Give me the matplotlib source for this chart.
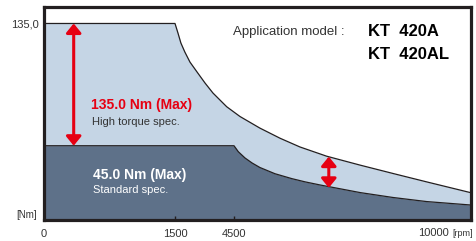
import numpy as np
import matplotlib
matplotlib.use("Agg")
import matplotlib.pyplot as plt

plt.rcParams['font.family'] = ['Liberation Sans', 'DejaVu Sans']

# schematic rpm axis: anchor speeds and their relative positions on the axis
axis_rpm = [0, 1500, 4500, 10000]
axis_pos = [0, 131, 190, 427]

# high torque spec (upper curve)
high_rpm = [0, 1500, 1650, 1800, 2000, 2260, 2620, 3030, 3430, 4130, 4640,
            5100, 5570, 6030, 6650, 7430, 8200, 8970, 10000]
high_nm = [135, 135, 128.0, 120.6, 114.0, 106.6, 99.3, 91.1, 83.8, 73.7, 66.5,
           58.0, 50.5, 44.1, 37.3, 30.7, 24.5, 18.4, 10.4]

# standard spec (lower curve)
std_rpm = [0, 4500, 4600, 4755, 4920, 5100, 5450, 5840, 6150, 6500, 7430, 8190, 8970, 10000]
std_nm = [45, 45, 40.6, 36.0, 32.3, 29.0, 24.4, 20.8, 18.4, 16.1, 10.5, 6.9, 3.9, 1.35]

x_ticks = [0, 1500, 4500]
x_labels = ['0', '1500', '4500']
y_ticks = [135]
y_labels = ['135,0']

light = '#c5d5e5'
dark = '#5e7189'
edge = '#231f20'
red = '#e60012'
txt = '#333333'

fig = plt.figure(figsize=(4.76, 2.41), dpi=100)
ax = fig.add_axes([44 / 476, 1 - 219.5 / 241, 427 / 476, 213 / 241])

fwd = lambda x: np.interp(x, axis_rpm, axis_pos)
inv = lambda p: np.interp(p, axis_pos, axis_rpm)
ax.set_xscale('function', functions=(fwd, inv))
ybot = -9.3
ax.set_xlim(0, 10000)
ax.set_ylim(ybot, 147.5)

ax.fill_between(high_rpm, high_nm, ybot, color=light, lw=0)
ax.fill_between(std_rpm, std_nm, ybot, color=dark, lw=0)
ax.plot(high_rpm, high_nm, color=edge, lw=0.9)
ax.plot(std_rpm, std_nm, color=edge, lw=0.9)

# red arrows
arr = dict(arrowstyle='<|-|>,head_length=0.55,head_width=0.45', color=red,
           lw=2.2, mutation_scale=10, shrinkA=0, shrinkB=0)
ax.annotate('', xy=(340, 135), xytext=(340, 45), arrowprops=arr)
ax.annotate('', xy=(6700, 37.0), xytext=(6700, 14.0), arrowprops=arr)

for s in ax.spines.values():
    s.set_linewidth(2.3)
    s.set_color(edge)
    s.set_zorder(5)

ax.set_xticks(x_ticks, x_labels)
ax.xaxis.set_minor_locator(plt.NullLocator())
ax.tick_params(axis='x', direction='in', length=3, width=1, color=edge,
               labelsize=8, labelcolor=txt, pad=7)
ax.set_yticks(y_ticks, y_labels)
ax.tick_params(axis='y', length=0, labelsize=8, labelcolor=txt, pad=4)

# axis end labels
fig.text(449 / 476, 1 - 233.5 / 241, '10000', ha='right', va='center', fontsize=8, color=txt)
fig.text(452 / 476, 1 - 233.5 / 241, '[rpm]', ha='left', va='center', fontsize=6.5, color=txt)
fig.text(37 / 476, 1 - 215 / 241, '[Nm]', ha='right', va='center', fontsize=7, color=txt)

# annotations
fig.text(91 / 476, 1 - 105 / 241, '135.0 Nm (Max)', ha='left', va='center',
         fontsize=10, fontweight='bold', color=red)
fig.text(92 / 476, 1 - 122 / 241, 'High torque spec.', ha='left', va='center',
         fontsize=8, color=txt)
fig.text(93 / 476, 1 - 175 / 241, '45.0 Nm (Max)', ha='left', va='center',
         fontsize=10, fontweight='bold', color='white')
fig.text(93 / 476, 1 - 190 / 241, 'Standard spec.', ha='left', va='center',
         fontsize=8, color='white')

fig.text(233 / 476, 1 - 31.5 / 241, 'Application model :', ha='left', va='center',
         fontsize=9.5, color=txt)
fig.text(368 / 476, 1 - 32 / 241, 'KT  420A', ha='left', va='center',
         fontsize=12, fontweight='bold', color='black')
fig.text(368 / 476, 1 - 54.5 / 241, 'KT  420AL', ha='left', va='center',
         fontsize=12, fontweight='bold', color='black')

fig.savefig('out.png', dpi=100)
